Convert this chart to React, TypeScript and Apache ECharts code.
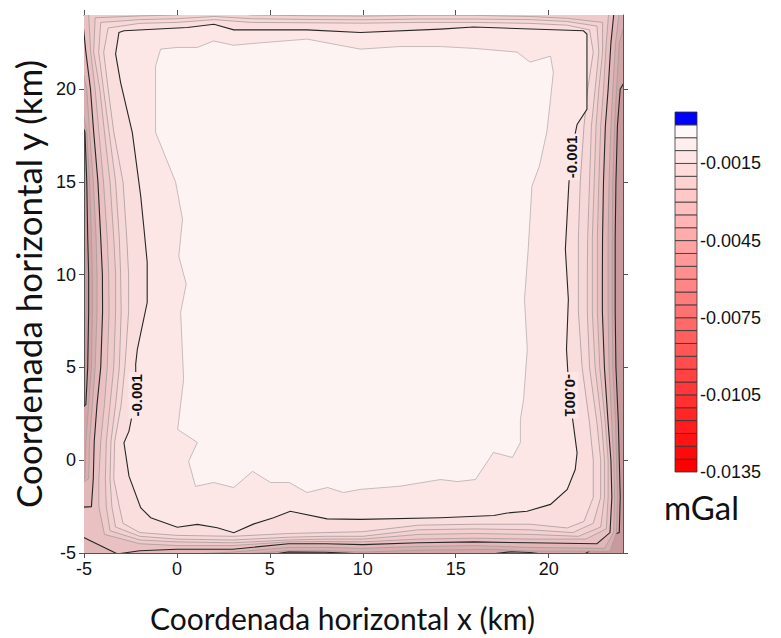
import React, { useEffect, useRef } from 'react';
import * as echarts from 'echarts';

const X_TITLE = 'Coordenada horizontal x (km)';
const Y_TITLE = 'Coordenada horizontal y (km)';
const UNIT = 'mGal';
const AXIS_MIN = -5;
const AXIS_MAX = 24;
const X_TICKS = [-5, 0, 5, 10, 15, 20];
const Y_TICKS = [-5, 0, 5, 10, 15, 20];

// contour levels (mGal), deepest first
const LEVELS = [-0.005, -0.0045, -0.004, -0.0035, -0.003, -0.0025, -0.002, -0.0015, -0.001, -0.0005];
const MAJOR_LEVELS = [-0.005, -0.0035, -0.001];

// contour polygons (km) : region where value > level
const C_0050 = [[-6,2],[-4.9,3],[-4.8,5],[-4.75,8],[-4.75,10],[-4.8,12],[-4.85,15],[-4.95,17.7],[-5.3,18.5],[-6,19],[-6,25],[25,25],[25,22],
  [23.85,20],[23.7,18],[23.62,15],[23.58,12],[23.58,10],[23.58,8],[23.62,5],[23.75,2],[23.8,0],[23.85,-2],[23.8,-3.9],[23.47,-4.0],[22.07,-4.97],[21.5,-5.3],
  [19,-4.97],[18,-4.93],[16.5,-5.1],[10,-5.05],[8,-4.96],[6,-4.94],[5,-5.1],[5,-6],[-6,-6]];
const C_0045 = [[-6,-1.5],[-4.95,-1],[-4.9,1],[-4.75,3],[-4.6,5],[-4.55,8],[-4.55,10],[-4.6,12],[-4.7,15],[-4.85,17.7],[-5.2,19.5],[-6,20],[-6,25],[24.5,25],
  [23.8,22.5],[23.65,20],[23.55,18],[23.45,15],[23.42,12],[23.42,10],[23.42,8],[23.45,5],[23.6,2],[23.65,0],[23.7,-2],[23.65,-3.9],[23.3,-4.9],
  [19,-4.9],[17,-4.8],[13,-4.85],[10,-4.95],[8,-4.88],[6,-4.88],[3,-5.1],[3,-6],[-6,-6]];
const C_0040 = [[-6,-1.8],[-4.75,-1],[-4.7,1],[-4.55,3],[-4.4,5],[-4.3,8],[-4.3,10],[-4.35,12],[-4.5,15],[-4.7,17.7],[-4.85,20],[-5.3,22],[-5.5,25],[23.9,25],
  [23.6,22.5],[23.45,20],[23.35,18],[23.25,15],[23.2,12],[23.2,10],[23.2,8],[23.25,5],[23.4,2],[23.5,0],[23.55,-2],[23.5,-3.9],[23.0,-4.75],
  [19,-4.7],[16,-4.6],[13,-4.65],[10,-4.75],[8,-4.7],[6,-4.7],[3,-4.95],[0,-5.1],[-2,-5.2],[-6,-5.5]];
const C_0035 = [[-4.6,-2.5],[-4.5,-1],[-4.45,1],[-4.3,3],[-4.1,5],[-4.0,8],[-4.01,10],[-4.1,12],[-4.25,15],[-4.48,17.7],[-4.65,20],[-4.9,22],[-5.2,25],[23.6,25],
  [23.35,22.5],[23.2,20],[23.05,18],[22.95,15],[22.9,12],[22.89,10],[22.89,8],[23.0,5],[23.2,2],[23.35,0],[23.4,-2],[23.3,-3.9],[22.6,-4.5],
  [19,-4.45],[16,-4.4],[13,-4.45],[10,-4.55],[8,-4.5],[6,-4.5],[3,-4.8],[0,-4.8],[-2,-4.88],[-3.2,-5.05],[-5.05,-4.15],[-6,-4.0],[-6,-2.6]];
const C_0030 = [[-4.2,-2.5],[-4.2,-1],[-4.1,1],[-3.9,3],[-3.75,5],[-3.65,8],[-3.67,10],[-3.75,12],[-3.95,15],[-4.2,17.7],[-4.4,20],[-4.64,22],[-4.8,25],[23.3,25],
  [23.1,22.5],[22.95,20],[22.8,18],[22.7,15],[22.62,12],[22.62,10],[22.62,8],[22.75,5],[23.05,2],[23.2,0],[23.2,-2],[23.1,-3.7],[22,-4.25],
  [19,-4.25],[16,-4.2],[13,-4.25],[10,-4.4],[8,-4.38],[6,-4.4],[3,-4.6],[0,-4.6],[-2,-4.5],[-3.9,-4.0]];
const C_0025 = [[-3.8,-2.5],[-3.85,-1],[-3.8,1],[-3.6,3],[-3.4,5],[-3.3,8],[-3.3,10],[-3.4,12],[-3.6,15],[-3.9,17.7],[-4.15,20],[-4.48,22],[-4.4,23.85],
  [-2,23.95],[0,24.0],[2,24.3],[4,24.0],[7,23.96],[10,23.94],[13,23.98],[16,23.98],[19,23.92],[21,23.82],[22.9,23.6],
  [22.9,22],[22.7,20],[22.55,18],[22.45,15],[22.35,12],[22.35,10],[22.35,8],[22.5,5],[22.85,2],[23.0,0],[23.0,-2],[22.8,-3.6],[21.6,-4.1],
  [19,-4.0],[16,-3.95],[13,-4.0],[10,-4.25],[8,-4.25],[6,-4.3],[3,-4.45],[0,-4.4],[-2,-4.3],[-3.6,-3.8]];
const C_0020 = [[-3.5,-2.5],[-3.6,-1],[-3.55,1],[-3.3,3],[-3.1,5],[-3.0,8],[-3.03,10],[-3.1,12],[-3.3,15],[-3.65,17.7],[-3.95,20],[-4.21,22],[-4.1,23.6],
  [-2,23.75],[0,23.8],[2,23.92],[4,23.8],[7,23.76],[10,23.74],[13,23.78],[16,23.78],[19,23.75],[21,23.65],[22.6,23.4],
  [22.7,22],[22.5,20],[22.3,18],[22.2,15],[22.1,12],[22.08,10],[22.08,8],[22.2,5],[22.6,2],[22.8,0],[22.8,-2],[22.4,-3.4],[21.3,-3.9],
  [19,-3.75],[16,-3.7],[13,-3.75],[10,-4.1],[8,-4.1],[6,-4.15],[3,-4.3],[0,-4.25],[-2,-4.1],[-3.3,-3.6]];
const C_0015 = [[-3.1,-2.5],[-3.4,-1],[-3.35,1],[-3.0,3],[-2.8,5],[-2.6,8],[-2.6,10],[-2.7,12],[-2.9,15],[-3.4,17.7],[-3.7,20],[-3.94,22],[-3.7,23.3],
  [-2,23.55],[0,23.6],[2,23.75],[4,23.6],[7,23.58],[10,23.56],[13,23.6],[16,23.6],[19,23.55],[21,23.45],[22.2,23.2],
  [22.4,22],[22.1,20],[21.9,18],[21.7,15],[21.6,12],[21.6,10],[21.6,8],[21.8,5],[22.2,2],[22.4,0],[22.4,-2],[21.9,-3.3],[21,-3.65],
  [19,-3.45],[16,-3.45],[13,-3.5],[10,-3.85],[8,-3.9],[6,-3.95],[3,-4.1],[0,-4.05],[-2,-3.9],[-2.9,-3.4]];
const C_0010 = [[-3.12,23.06],[-2.85,23.15],[0.56,23.33],[1.99,23.5],[3.06,23.2],[7.0,23.2],[9.87,23.06],[14.18,23.24],[15.95,23.35],[21.87,23.15],[22.06,22.97],
  [22.06,18.92],[21.53,18.1],[21.2,16.5],[21.08,14.78],[20.9,11.37],[21.06,8.67],[20.96,5.98],[21.1,3.6],[21.34,1.84],[21.53,0.4],[21.43,-0.5],[21.0,-1.57],
  [20.1,-2.38],[18.84,-2.75],[17.77,-2.84],[17.05,-2.98],[14.18,-3.1],[9.87,-3.19],[8.08,-3.16],[6.1,-2.75],[5.2,-3.1],[4.14,-3.43],[3.06,-3.91],[2.17,-3.64],
  [1.1,-3.46],[0.02,-3.61],[-1.41,-3.1],[-1.95,-2.56],[-2.58,-0.86],[-2.85,0.94],[-2.58,1.57],[-2.2,3.5],[-2.22,5.17],[-2.13,5.98],[-1.6,8.5],[-1.6,10.67],
  [-1.77,12.45],[-1.95,14.25],[-2.4,17.66],[-3.03,20.36],[-3.3,21.9]];
const C_0005 = [[-0.88,22.16],[0.02,22.25],[1.1,22.25],[1.97,22.6],[3.05,22.37],[4.5,22.5],[7.0,22.7],[9.87,22.16],[12.0,22.3],[14.18,22.3],[16.0,22.2],
  [18.3,22.0],[19.0,21.46],[20.1,21.78],[20.25,20.9],[20.1,19.46],[19.9,17.68],[19.5,15.85],[19.1,14.77],[18.9,11.37],[18.7,8.67],[18.85,5.98],[18.65,3.28],
  [18.48,2.2],[18.48,0.96],[18.05,0.15],[17.03,0.42],[16.06,-1.04],[15.09,-1.15],[14.18,-1.04],[12.0,-1.4],[9.87,-1.57],[8.96,-1.74],[8.1,-1.47],[7.0,-1.74],
  [6.04,-1.2],[5.04,-1.2],[4.07,-0.6],[3.05,-1.47],[1.97,-1.2],[1.0,-1.41],[0.63,-0.06],[1.1,0.96],[0.04,1.66],[0.36,4.36],[0.2,7.97],[0.5,9.5],[0.1,11.0],
  [0.3,13.0],[-0.07,14.99],[-1.15,17.68],[-1.15,21.24]];
const CONTOURS = [C_0050, C_0045, C_0040, C_0035, C_0030, C_0025, C_0020, C_0015, C_0010, C_0005];

// contour labels
const LABEL_TEXT = ['-0.001', '-0.001', '-0.001'];
const LABEL_X = [-2.2, 21.25, 21.2];
const LABEL_Y = [3.5, 16.35, 3.5];
const LABEL_ROT = [90, 90, -90];

// colour scale boundaries
const CB_BOUNDS = [-0.0135, -0.013, -0.0125, -0.012, -0.0115, -0.011, -0.0105, -0.01, -0.0095, -0.009, -0.0085, -0.008,
  -0.0075, -0.007, -0.0065, -0.006, -0.0055, -0.005, -0.0045, -0.004, -0.0035, -0.003, -0.0025, -0.002, -0.0015, -0.001,
  -0.0005, 0, 0.0005];
const CB_LABELS = [-0.0135, -0.0105, -0.0075, -0.0045, -0.0015];

// styles
const BASE_FILL = '#C99A9D';
const BAND_FILLS = ['#D2A5A7', '#D9AEB0', '#E1B7B8', '#E9C1C2', '#EFCACA', '#F3D1D1', '#F7D8D8', '#FADEDE', '#FCE6E6', '#FEF3F3'];

export default function App() {
  const ref = useRef<HTMLDivElement>(null);
  useEffect(() => {
    const chart = echarts.init(ref.current as HTMLDivElement, null, { renderer: 'svg' });
    const lineStyle = { color: '#555', width: 1 };
    const nBoxes = CB_BOUNDS.length - 1;
    const cbColor = (k: number) => {
      if (k === nBoxes - 1) return '#0000FF';
      const t = k / (nBoxes - 2);
      const g = Math.round(248 * t);
      return `rgb(255,${g},${g})`;
    };
    const option: any = {
      animation: false,
      backgroundColor: '#fff',
      grid: [
        { left: 84, top: 15, width: 539, height: 539, show: true, backgroundColor: BASE_FILL, borderWidth: 0 },
        { left: 675, top: 112, width: 22, height: 360 },
      ],
      xAxis: [
        {
          gridIndex: 0, type: 'value', min: AXIS_MIN, max: AXIS_MAX, position: 'bottom',
          axisLine: { show: true, onZero: false, lineStyle },
          axisTick: { show: true, inside: false, length: 5, customValues: X_TICKS, lineStyle },
          axisLabel: { customValues: X_TICKS, fontSize: 18, color: '#111', fontFamily: 'Liberation Sans', margin: 7 },
          splitLine: { show: false },
          name: X_TITLE, nameLocation: 'middle', nameGap: 50,
          nameTextStyle: { fontSize: 30, fontFamily: 'Lato', color: '#111', padding: [0, 22, 0, 0] },
        },
        {
          gridIndex: 0, type: 'value', min: AXIS_MIN, max: AXIS_MAX, position: 'top',
          axisLine: { show: true, onZero: false, lineStyle },
          axisTick: { show: true, inside: false, length: 5, customValues: X_TICKS, lineStyle },
          axisLabel: { show: false }, splitLine: { show: false },
        },
        { gridIndex: 1, type: 'value', min: 0, max: 1, show: false },
      ],
      yAxis: [
        {
          gridIndex: 0, type: 'value', min: AXIS_MIN, max: AXIS_MAX, position: 'left',
          axisLine: { show: true, onZero: false, lineStyle },
          axisTick: { show: true, inside: false, length: 5, customValues: Y_TICKS, lineStyle },
          axisLabel: { customValues: Y_TICKS, fontSize: 18, color: '#111', fontFamily: 'Liberation Sans', margin: 8 },
          splitLine: { show: false },
          name: Y_TITLE, nameLocation: 'middle', nameGap: 36, nameRotate: 90,
          nameTextStyle: { fontSize: 35, fontFamily: 'Lato', color: '#111' },
        },
        {
          gridIndex: 0, type: 'value', min: AXIS_MIN, max: AXIS_MAX, position: 'right',
          axisLine: { show: true, onZero: false, lineStyle },
          axisTick: { show: true, inside: false, length: 5, customValues: Y_TICKS, lineStyle },
          axisLabel: { show: false }, splitLine: { show: false },
        },
        {
          gridIndex: 1, type: 'value', min: CB_BOUNDS[0], max: CB_BOUNDS[CB_BOUNDS.length - 1], position: 'right',
          axisLine: { show: false }, axisTick: { show: false }, splitLine: { show: false },
          axisLabel: {
            customValues: CB_LABELS, fontSize: 18, color: '#111', fontFamily: 'Liberation Sans', margin: 3,
            formatter: (v: number) => v.toFixed(4),
          },
        },
      ],
      series: [
        {
          type: 'custom', xAxisIndex: 0, yAxisIndex: 0, clip: true, z: 2,
          encode: { x: 0, y: 1 },
          data: CONTOURS.map((_, i) => [AXIS_MIN, AXIS_MIN, i]),
          renderItem: (_p: any, api: any) => {
            const i = api.value(2);
            const pts = CONTOURS[i].map((p) => api.coord(p));
            const major = MAJOR_LEVELS.indexOf(LEVELS[i]) >= 0;
            return {
              type: 'polygon', z2: i,
              shape: { points: pts },
              style: {
                fill: BAND_FILLS[i],
                stroke: major ? '#262626' : (i === CONTOURS.length - 1 ? '#B8AEAE' : '#A89A9A'),
                lineWidth: major ? 1.1 : 0.8,
              },
            };
          },
        },
        {
          type: 'custom', xAxisIndex: 0, yAxisIndex: 0, z: 10,
          encode: { x: 0, y: 1 },
          data: LABEL_X.map((x, i) => [x, LABEL_Y[i], i]),
          renderItem: (_p: any, api: any) => {
            const i = api.value(2);
            const p = api.coord([api.value(0), api.value(1)]);
            return {
              type: 'text', x: p[0], y: p[1], z2: 100, rotation: (LABEL_ROT[i] * Math.PI) / 180,
              style: {
                text: LABEL_TEXT[i], fontSize: 15, fontWeight: 'bold', fontFamily: 'Liberation Sans',
                fill: '#111', align: 'center', verticalAlign: 'middle',
                backgroundColor: '#FCE6E6', padding: [0, 2],
              },
            };
          },
        },
        {
          type: 'custom', xAxisIndex: 2, yAxisIndex: 2,
          encode: { x: 0, y: 1 },
          data: CB_BOUNDS.slice(0, -1).map((lo, k) => [0, lo, CB_BOUNDS[k + 1], k]),
          renderItem: (_p: any, api: any) => {
            const k = api.value(3);
            const a = api.coord([0, api.value(2)]);
            const b = api.coord([1, api.value(1)]);
            return {
              type: 'rect',
              shape: { x: a[0], y: a[1], width: b[0] - a[0], height: b[1] - a[1] },
              style: { fill: cbColor(k), stroke: '#333', lineWidth: 0.8 },
            };
          },
        },
      ],
      graphic: [
        {
          type: 'text', left: 664, top: 490,
          style: { text: UNIT, fontSize: 33, fontFamily: 'Lato', fill: '#111' },
        },
      ],
    };
    chart.setOption(option);
    return () => chart.dispose();
  }, []);
  return (
    <div
      ref={ref}
      style={{ position: 'fixed', left: 0, top: 0, width: 781, height: 638, background: '#fff' }}
    />
  );
}
